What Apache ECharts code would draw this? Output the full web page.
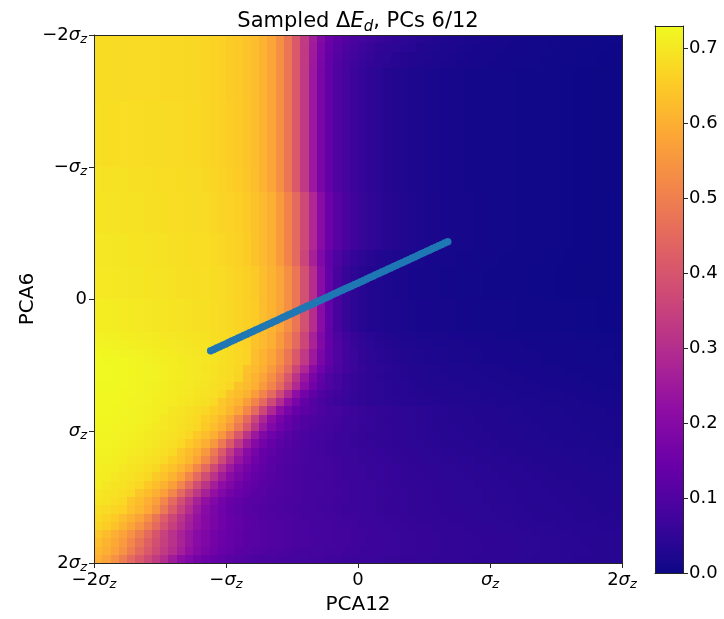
<!DOCTYPE html>
<html><head><meta charset="utf-8">
<script src="https://cdn.jsdelivr.net/npm/echarts@6/dist/echarts.min.js"></script>
<style>html,body{margin:0;padding:0;background:#fff}#c{width:724px;height:619px}</style>
</head><body><div id="c"></div>
<script>
// extent of the sampled field (units of sigma_z), both PCA12 (x) and PCA6 (y)
const fieldMin = -2, fieldMax = 2;
// sampled Delta E_d: one row per PCA6 cell (top row = -2 sigma_z), 64 columns along PCA12
const deltaE = [
[.68,.68,.679,.679,.678,.678,.677,.677,.676,.675,.675,.674,.673,.669,.665,.66,.654,.647,.637,.628,.61,.58,.535,.48,.41,.335,.26,.195,.15,.122,.103,.089,.078,.069,.061,.055,.049,.044,.04,.036,.032,.029,.026,.024,.022,.02,.018,.016,.015,.013,.012,.011,.01,.009,.008,.007,.006,.006,.005,.004,.004,.003,.003,.003],
[.68,.68,.679,.679,.678,.678,.677,.677,.676,.675,.675,.674,.673,.669,.665,.66,.654,.647,.637,.628,.61,.58,.535,.48,.41,.333,.255,.188,.143,.114,.095,.081,.07,.061,.054,.048,.043,.039,.035,.031,.028,.025,.023,.021,.019,.017,.015,.014,.013,.012,.011,.01,.009,.008,.007,.006,.005,.005,.004,.004,.003,.003,.002,.002],
[.68,.68,.679,.679,.678,.678,.677,.677,.676,.675,.675,.674,.673,.669,.665,.66,.654,.647,.637,.628,.61,.58,.535,.48,.41,.332,.252,.183,.137,.107,.088,.074,.063,.055,.048,.043,.038,.034,.031,.028,.025,.023,.021,.019,.017,.016,.014,.013,.012,.011,.01,.009,.008,.007,.006,.005,.005,.004,.004,.003,.003,.002,.002,.002],
[.68,.68,.679,.679,.678,.678,.677,.677,.676,.675,.675,.674,.673,.669,.665,.66,.654,.647,.637,.628,.61,.58,.535,.48,.41,.331,.249,.179,.133,.102,.083,.07,.06,.052,.046,.041,.036,.033,.029,.026,.024,.022,.02,.018,.016,.015,.013,.012,.011,.01,.009,.008,.008,.007,.006,.005,.005,.004,.003,.003,.003,.002,.002,.001],
[.68,.68,.679,.679,.678,.678,.677,.677,.676,.675,.675,.674,.673,.669,.665,.66,.654,.647,.637,.628,.61,.58,.535,.48,.41,.33,.245,.175,.13,.10,.08,.066,.055,.046,.04,.034,.03,.026,.023,.021,.019,.017,.015,.0135,.012,.011,.01,.009,.008,.007,.007,.006,.005,.005,.004,.004,.003,.003,.002,.002,.001,.001,.001,0],
[.68,.68,.679,.679,.678,.678,.677,.677,.676,.675,.675,.674,.673,.669,.665,.66,.654,.647,.637,.628,.61,.58,.535,.48,.41,.33,.245,.175,.13,.10,.08,.066,.055,.046,.04,.034,.03,.026,.023,.021,.019,.017,.015,.0135,.012,.011,.01,.009,.008,.007,.007,.006,.005,.005,.004,.004,.003,.003,.002,.002,.001,.001,.001,0],
[.68,.68,.679,.679,.678,.678,.677,.677,.676,.675,.675,.674,.673,.669,.665,.66,.654,.647,.637,.628,.61,.58,.535,.48,.41,.33,.245,.175,.13,.10,.08,.066,.055,.046,.04,.034,.03,.026,.023,.021,.019,.017,.015,.0135,.012,.011,.01,.009,.008,.007,.007,.006,.005,.005,.004,.004,.003,.003,.002,.002,.001,.001,.001,0],
[.68,.68,.679,.679,.678,.678,.677,.677,.676,.675,.675,.674,.673,.669,.665,.66,.654,.647,.637,.628,.61,.58,.535,.48,.41,.33,.245,.175,.13,.10,.08,.066,.055,.046,.04,.034,.03,.026,.023,.021,.019,.017,.015,.0135,.012,.011,.01,.009,.008,.007,.007,.006,.005,.005,.004,.004,.003,.003,.002,.002,.001,.001,.001,0],
[.686,.685,.685,.684,.683,.682,.681,.68,.679,.678,.677,.676,.675,.671,.667,.662,.656,.649,.639,.628,.61,.58,.535,.48,.41,.33,.245,.175,.13,.10,.08,.066,.055,.046,.04,.034,.03,.026,.023,.021,.019,.017,.015,.0135,.012,.011,.01,.009,.008,.007,.007,.006,.005,.005,.004,.004,.003,.003,.002,.002,.001,.001,.001,0],
[.686,.685,.685,.684,.683,.682,.681,.68,.679,.678,.677,.676,.675,.671,.667,.662,.656,.649,.639,.628,.61,.58,.535,.48,.41,.33,.245,.175,.13,.10,.08,.066,.055,.046,.04,.034,.03,.026,.023,.021,.019,.017,.015,.0135,.012,.011,.01,.009,.008,.007,.007,.006,.005,.005,.004,.004,.003,.003,.002,.002,.001,.001,.001,0],
[.686,.685,.685,.684,.683,.682,.681,.68,.679,.678,.677,.676,.675,.671,.667,.662,.656,.649,.639,.628,.61,.58,.535,.48,.41,.33,.245,.175,.13,.10,.08,.066,.055,.046,.04,.034,.03,.026,.023,.021,.019,.017,.015,.0135,.012,.011,.01,.009,.008,.007,.007,.006,.005,.005,.004,.004,.003,.003,.002,.002,.001,.001,.001,0],
[.686,.685,.685,.684,.683,.682,.681,.68,.679,.678,.677,.676,.675,.671,.667,.662,.656,.649,.639,.628,.61,.58,.535,.48,.41,.33,.245,.175,.13,.10,.08,.066,.055,.046,.04,.034,.03,.026,.023,.021,.019,.017,.015,.0135,.012,.011,.01,.009,.008,.007,.007,.006,.005,.005,.004,.004,.003,.003,.002,.002,.001,.001,.001,0],
[.686,.685,.685,.684,.683,.682,.681,.68,.679,.678,.677,.676,.675,.671,.667,.662,.656,.649,.639,.628,.61,.58,.535,.48,.41,.33,.245,.175,.13,.10,.08,.066,.055,.046,.04,.034,.03,.026,.023,.021,.019,.017,.015,.0135,.012,.011,.01,.009,.008,.007,.007,.006,.005,.005,.004,.004,.003,.003,.002,.002,.001,.001,.001,0],
[.686,.685,.685,.684,.683,.682,.681,.68,.679,.678,.677,.676,.675,.671,.667,.662,.656,.649,.639,.628,.61,.58,.535,.48,.41,.33,.245,.175,.13,.10,.08,.066,.055,.046,.04,.034,.03,.026,.023,.021,.019,.017,.015,.0135,.012,.011,.01,.009,.008,.007,.007,.006,.005,.005,.004,.004,.003,.003,.002,.002,.001,.001,.001,0],
[.686,.685,.685,.684,.683,.682,.681,.68,.679,.678,.677,.676,.675,.671,.667,.662,.656,.649,.639,.628,.61,.58,.535,.48,.41,.33,.245,.175,.13,.10,.08,.066,.055,.046,.04,.034,.03,.026,.023,.021,.019,.017,.015,.0135,.012,.011,.01,.009,.008,.007,.007,.006,.005,.005,.004,.004,.003,.003,.002,.002,.001,.001,.001,0],
[.686,.685,.685,.684,.683,.682,.681,.68,.679,.678,.677,.676,.675,.671,.667,.662,.656,.649,.639,.628,.61,.58,.535,.48,.41,.33,.245,.175,.13,.10,.08,.066,.055,.046,.04,.034,.03,.026,.023,.021,.019,.017,.015,.0135,.012,.011,.01,.009,.008,.007,.007,.006,.005,.005,.004,.004,.003,.003,.002,.002,.001,.001,.001,0],
[.692,.691,.69,.689,.688,.687,.686,.685,.683,.682,.681,.679,.678,.674,.67,.665,.659,.652,.642,.628,.61,.58,.535,.48,.41,.33,.245,.175,.13,.10,.08,.066,.055,.046,.04,.034,.03,.026,.023,.021,.019,.017,.015,.0135,.012,.011,.01,.009,.008,.007,.007,.006,.005,.005,.004,.004,.003,.003,.002,.002,.001,.001,.001,0],
[.692,.691,.69,.689,.688,.687,.686,.685,.683,.682,.681,.679,.678,.674,.67,.665,.659,.652,.642,.628,.61,.58,.535,.48,.41,.33,.245,.175,.13,.10,.08,.066,.055,.046,.04,.034,.03,.026,.023,.021,.019,.017,.015,.0135,.012,.011,.01,.009,.008,.007,.007,.006,.005,.005,.004,.004,.003,.003,.002,.002,.001,.001,.001,0],
[.692,.691,.69,.689,.688,.687,.686,.685,.683,.682,.681,.679,.678,.674,.67,.665,.659,.652,.642,.628,.61,.58,.535,.48,.41,.33,.245,.175,.13,.10,.08,.066,.055,.046,.04,.034,.03,.026,.023,.021,.019,.017,.015,.0135,.012,.011,.01,.009,.008,.007,.007,.006,.005,.005,.004,.004,.003,.003,.002,.002,.001,.001,.001,0],
[.694,.693,.692,.691,.69,.689,.687,.686,.685,.683,.682,.681,.679,.678,.673,.668,.663,.658,.648,.635,.62,.60,.56,.51,.45,.37,.285,.205,.15,.115,.09,.072,.06,.05,.043,.037,.032,.028,.025,.022,.02,.018,.016,.014,.013,.012,.011,.01,.009,.008,.007,.006,.005,.005,.004,.004,.003,.003,.002,.002,.001,.001,0,0],
[.694,.693,.692,.691,.69,.689,.687,.686,.685,.683,.682,.681,.679,.678,.673,.668,.663,.658,.648,.635,.62,.60,.56,.51,.45,.37,.285,.205,.15,.115,.09,.072,.06,.05,.043,.037,.032,.028,.025,.022,.02,.018,.016,.014,.013,.012,.011,.01,.009,.008,.007,.006,.005,.005,.004,.004,.003,.003,.002,.002,.001,.001,0,0],
[.694,.693,.692,.691,.69,.689,.687,.686,.685,.683,.682,.681,.679,.678,.673,.668,.663,.658,.648,.635,.62,.60,.56,.51,.45,.37,.285,.205,.15,.115,.09,.072,.06,.05,.043,.037,.032,.028,.025,.022,.02,.018,.016,.014,.013,.012,.011,.01,.009,.008,.007,.006,.005,.005,.004,.004,.003,.003,.002,.002,.001,.001,0,0],
[.694,.693,.692,.691,.69,.689,.687,.686,.685,.683,.682,.681,.679,.678,.673,.668,.663,.658,.648,.635,.62,.60,.56,.51,.45,.37,.285,.205,.15,.115,.09,.072,.06,.05,.043,.037,.032,.028,.025,.022,.02,.018,.016,.014,.013,.012,.011,.01,.009,.008,.007,.006,.005,.005,.004,.004,.003,.003,.002,.002,.001,.001,0,0],
[.694,.693,.692,.691,.69,.689,.687,.686,.685,.683,.682,.681,.679,.678,.673,.668,.663,.658,.648,.635,.62,.60,.56,.51,.45,.37,.285,.205,.15,.115,.09,.072,.06,.05,.043,.037,.032,.028,.025,.022,.02,.018,.016,.014,.013,.012,.011,.01,.009,.008,.007,.006,.005,.005,.004,.004,.003,.003,.002,.002,.001,.001,0,0],
[.70,.699,.698,.697,.695,.694,.692,.691,.689,.688,.686,.685,.683,.682,.677,.672,.667,.662,.652,.635,.62,.60,.56,.51,.45,.37,.285,.205,.15,.115,.09,.072,.06,.05,.043,.037,.032,.028,.025,.022,.02,.018,.016,.014,.013,.012,.011,.01,.009,.008,.007,.006,.005,.005,.004,.004,.003,.003,.002,.002,.001,.001,0,0],
[.70,.699,.698,.697,.695,.694,.692,.691,.689,.688,.686,.685,.683,.682,.677,.672,.667,.662,.652,.635,.62,.60,.56,.51,.45,.37,.285,.205,.15,.115,.09,.072,.06,.05,.043,.037,.032,.028,.025,.022,.02,.018,.016,.014,.013,.012,.011,.01,.009,.008,.007,.006,.005,.005,.004,.004,.003,.003,.002,.002,.001,.001,0,0],
[.70,.699,.698,.697,.695,.694,.692,.691,.689,.688,.686,.685,.683,.682,.677,.672,.667,.662,.652,.635,.62,.60,.56,.51,.45,.36,.27,.19,.13,.095,.07,.055,.045,.037,.031,.027,.024,.021,.019,.017,.015,.014,.013,.012,.011,.01,.009,.008,.007,.006,.006,.005,.005,.004,.004,.003,.003,.002,.002,.002,.001,.001,0,0],
[.70,.699,.698,.697,.695,.694,.692,.691,.689,.688,.686,.685,.683,.682,.677,.672,.667,.662,.652,.635,.62,.60,.56,.51,.45,.36,.27,.19,.13,.095,.07,.055,.045,.037,.031,.027,.024,.021,.019,.017,.015,.014,.013,.012,.011,.01,.009,.008,.007,.006,.006,.005,.005,.004,.004,.003,.003,.002,.002,.002,.001,.001,0,0],
[.703,.702,.701,.70,.698,.697,.695,.693,.692,.69,.688,.687,.685,.684,.681,.677,.672,.666,.659,.649,.628,.61,.58,.535,.48,.39,.30,.205,.13,.085,.06,.045,.036,.03,.026,.022,.02,.018,.016,.014,.013,.012,.011,.01,.009,.008,.007,.006,.006,.005,.005,.004,.004,.003,.003,.003,.002,.002,.002,.001,.001,.001,0,0],
[.703,.702,.701,.70,.698,.697,.695,.693,.692,.69,.688,.687,.685,.684,.681,.677,.672,.666,.659,.649,.628,.61,.58,.535,.48,.39,.30,.205,.13,.085,.06,.045,.036,.03,.026,.022,.02,.018,.016,.014,.013,.012,.011,.01,.009,.008,.007,.006,.006,.005,.005,.004,.004,.003,.003,.003,.002,.002,.002,.001,.001,.001,0,0],
[.703,.702,.701,.70,.698,.697,.695,.693,.692,.69,.688,.687,.685,.684,.681,.677,.672,.666,.659,.649,.628,.61,.58,.535,.48,.39,.30,.205,.13,.085,.06,.045,.036,.03,.026,.022,.02,.018,.016,.014,.013,.012,.011,.01,.009,.008,.007,.006,.006,.005,.005,.004,.004,.003,.003,.003,.002,.002,.002,.001,.001,.001,0,0],
[.703,.702,.701,.70,.698,.697,.695,.693,.692,.69,.688,.687,.685,.684,.681,.677,.672,.666,.659,.649,.628,.61,.58,.535,.48,.39,.30,.205,.13,.085,.06,.045,.036,.03,.026,.022,.02,.018,.016,.014,.013,.012,.011,.01,.009,.008,.007,.006,.006,.005,.005,.004,.004,.003,.003,.003,.002,.002,.002,.001,.001,.001,0,0],
[.71,.709,.708,.706,.704,.702,.70,.698,.696,.694,.692,.69,.688,.686,.683,.679,.674,.668,.661,.651,.628,.61,.58,.535,.48,.39,.30,.205,.13,.085,.06,.045,.036,.03,.026,.023,.021,.019,.017,.016,.015,.014,.013,.012,.011,.01,.009,.009,.008,.007,.007,.006,.006,.005,.005,.004,.004,.004,.003,.003,.003,.002,.002,.002],
[.71,.709,.708,.706,.704,.702,.70,.698,.696,.694,.692,.69,.688,.686,.683,.679,.674,.668,.661,.651,.628,.61,.58,.535,.48,.39,.30,.205,.13,.085,.06,.045,.036,.03,.026,.023,.021,.019,.017,.016,.015,.014,.013,.012,.011,.01,.009,.009,.008,.007,.007,.006,.006,.005,.005,.004,.004,.004,.003,.003,.003,.002,.002,.002],
[.71,.709,.708,.706,.704,.702,.70,.698,.696,.694,.692,.69,.688,.686,.683,.679,.674,.668,.661,.651,.628,.61,.58,.535,.48,.39,.30,.205,.13,.085,.06,.045,.036,.03,.026,.023,.021,.019,.017,.016,.015,.014,.013,.012,.011,.01,.009,.009,.008,.007,.007,.006,.006,.005,.005,.004,.004,.004,.003,.003,.003,.002,.002,.002],
[.71,.709,.708,.706,.704,.702,.70,.698,.696,.694,.692,.69,.688,.686,.683,.679,.674,.668,.661,.651,.628,.61,.58,.535,.48,.39,.30,.205,.13,.085,.06,.045,.036,.03,.026,.023,.021,.019,.017,.016,.015,.014,.013,.012,.011,.01,.009,.009,.008,.007,.007,.006,.006,.005,.005,.004,.004,.004,.003,.003,.003,.002,.002,.002],
[.716,.715,.714,.712,.71,.708,.706,.704,.701,.699,.697,.694,.692,.69,.685,.68,.675,.67,.66,.635,.62,.60,.56,.51,.45,.36,.27,.19,.13,.095,.072,.057,.047,.04,.034,.03,.027,.024,.022,.02,.019,.018,.017,.016,.015,.014,.013,.012,.012,.011,.01,.01,.009,.009,.008,.008,.007,.007,.006,.006,.005,.005,.004,.004],
[.72,.719,.718,.716,.714,.712,.709,.707,.704,.702,.699,.697,.694,.692,.687,.682,.677,.672,.662,.635,.62,.60,.56,.51,.45,.365,.275,.195,.135,.1,.076,.06,.05,.043,.037,.033,.03,.027,.025,.023,.021,.02,.019,.018,.017,.016,.015,.014,.014,.013,.012,.012,.011,.01,.01,.009,.009,.008,.008,.007,.007,.006,.006,.005],
[.726,.725,.724,.722,.72,.718,.715,.712,.709,.706,.703,.70,.698,.695,.691,.686,.68,.673,.663,.628,.61,.58,.535,.48,.41,.33,.25,.18,.13,.098,.076,.062,.052,.045,.04,.036,.033,.03,.028,.026,.024,.022,.021,.02,.019,.018,.017,.016,.016,.015,.014,.013,.013,.012,.011,.011,.01,.01,.009,.008,.008,.007,.007,.006],
[.73,.729,.728,.726,.724,.721,.718,.715,.712,.709,.705,.702,.699,.696,.692,.687,.681,.674,.664,.628,.61,.58,.535,.48,.41,.33,.25,.18,.13,.098,.076,.062,.052,.045,.04,.036,.033,.03,.028,.026,.024,.022,.021,.02,.019,.018,.017,.016,.016,.015,.014,.013,.013,.012,.011,.011,.01,.01,.009,.008,.008,.007,.007,.006],
[.73,.73,.729,.727,.725,.722,.719,.716,.713,.71,.706,.703,.70,.695,.69,.685,.68,.67,.635,.62,.60,.56,.51,.45,.365,.285,.21,.155,.118,.093,.076,.064,.055,.048,.043,.039,.036,.033,.031,.029,.027,.025,.024,.023,.022,.021,.02,.019,.018,.017,.016,.016,.015,.014,.013,.013,.012,.011,.011,.01,.01,.009,.009,.008],
[.73,.73,.729,.727,.725,.722,.719,.716,.713,.709,.706,.703,.70,.696,.691,.685,.678,.668,.628,.61,.58,.535,.48,.405,.32,.24,.175,.13,.1,.08,.067,.058,.051,.046,.042,.038,.035,.033,.031,.029,.027,.026,.025,.024,.023,.022,.021,.02,.019,.018,.018,.017,.016,.015,.015,.014,.013,.013,.012,.011,.011,.01,.01,.009],
[.729,.729,.728,.726,.724,.721,.718,.715,.712,.708,.705,.702,.697,.692,.687,.682,.672,.635,.62,.60,.56,.51,.45,.37,.29,.215,.16,.123,.098,.08,.068,.059,.052,.047,.043,.04,.037,.035,.033,.031,.029,.028,.027,.026,.025,.024,.023,.022,.021,.02,.019,.018,.018,.017,.016,.015,.015,.014,.013,.013,.012,.011,.011,.01],
[.728,.728,.727,.725,.723,.72,.717,.714,.71,.707,.704,.699,.694,.689,.684,.674,.64,.625,.605,.565,.51,.45,.37,.29,.218,.165,.128,.102,.085,.072,.063,.056,.051,.047,.043,.04,.038,.036,.034,.032,.031,.03,.029,.028,.027,.026,.025,.024,.023,.022,.021,.02,.02,.019,.018,.017,.017,.016,.015,.015,.014,.013,.013,.012],
[.727,.727,.726,.724,.722,.719,.716,.712,.709,.706,.701,.696,.691,.686,.676,.645,.628,.607,.567,.51,.45,.37,.295,.225,.172,.135,.108,.09,.077,.068,.061,.055,.05,.046,.043,.041,.039,.037,.035,.034,.033,.032,.031,.03,.029,.028,.027,.026,.025,.024,.023,.022,.021,.021,.02,.019,.018,.018,.017,.016,.016,.015,.014,.014],
[.726,.726,.725,.723,.721,.718,.715,.711,.708,.697,.692,.686,.68,.672,.655,.64,.615,.58,.52,.45,.365,.285,.22,.175,.143,.122,.106,.095,.086,.078,.072,.066,.061,.057,.053,.05,.047,.045,.043,.041,.039,.037,.035,.034,.032,.031,.03,.029,.028,.027,.026,.025,.024,.023,.022,.021,.021,.02,.019,.018,.018,.017,.016,.016],
[.725,.725,.724,.722,.72,.717,.713,.71,.70,.695,.689,.683,.675,.655,.64,.615,.58,.52,.45,.36,.28,.215,.17,.14,.12,.105,.095,.087,.08,.074,.068,.063,.059,.055,.052,.049,.047,.045,.043,.041,.039,.037,.036,.034,.033,.032,.031,.03,.029,.028,.027,.026,.025,.024,.023,.022,.022,.021,.02,.019,.019,.018,.017,.017],
[.723,.723,.722,.72,.717,.714,.711,.703,.699,.694,.688,.681,.672,.648,.628,.60,.555,.487,.405,.32,.245,.19,.155,.13,.112,.10,.091,.083,.077,.071,.066,.062,.058,.055,.052,.05,.048,.046,.044,.042,.04,.038,.037,.035,.034,.033,.032,.031,.03,.029,.028,.027,.026,.025,.024,.023,.022,.022,.021,.02,.019,.019,.018,.017],
[.722,.721,.72,.718,.715,.712,.704,.70,.695,.689,.682,.673,.648,.628,.60,.555,.487,.405,.32,.245,.19,.155,.13,.112,.10,.091,.083,.078,.073,.068,.064,.06,.057,.054,.052,.05,.048,.046,.044,.042,.04,.039,.037,.036,.035,.034,.033,.032,.031,.03,.029,.028,.027,.026,.025,.024,.024,.023,.022,.021,.021,.02,.019,.019],
[.72,.719,.717,.715,.712,.706,.702,.697,.691,.684,.675,.648,.628,.60,.555,.487,.41,.328,.255,.2,.163,.137,.118,.106,.097,.089,.083,.077,.072,.068,.064,.061,.058,.055,.053,.051,.049,.047,.045,.043,.041,.04,.038,.037,.036,.035,.034,.033,.032,.031,.03,.029,.028,.027,.026,.026,.025,.024,.023,.023,.022,.021,.021,.02],
[.717,.716,.714,.711,.706,.702,.697,.691,.684,.675,.645,.625,.60,.553,.486,.412,.333,.262,.207,.17,.143,.124,.111,.101,.093,.087,.081,.076,.072,.068,.065,.062,.059,.057,.055,.053,.051,.049,.047,.045,.043,.042,.04,.039,.038,.037,.036,.035,.034,.033,.032,.031,.03,.029,.028,.028,.027,.026,.025,.025,.024,.023,.023,.022],
[.715,.714,.712,.709,.70,.696,.69,.684,.676,.655,.638,.613,.578,.518,.45,.37,.295,.235,.19,.158,.135,.12,.108,.099,.092,.087,.082,.078,.074,.07,.067,.064,.061,.059,.057,.055,.053,.051,.049,.047,.045,.044,.042,.041,.04,.039,.038,.037,.036,.035,.034,.033,.032,.031,.03,.029,.029,.028,.027,.026,.026,.025,.024,.024],
[.713,.712,.71,.70,.695,.689,.682,.674,.652,.636,.611,.576,.517,.45,.375,.305,.245,.2,.168,.145,.128,.115,.105,.097,.091,.086,.082,.078,.074,.071,.068,.065,.063,.061,.059,.057,.055,.053,.051,.049,.047,.046,.044,.043,.042,.041,.04,.039,.038,.037,.036,.035,.034,.033,.032,.031,.03,.03,.029,.028,.027,.027,.026,.025],
[.711,.71,.70,.695,.689,.682,.674,.65,.633,.608,.574,.516,.45,.38,.315,.258,.212,.178,.154,.136,.122,.111,.102,.095,.09,.085,.081,.077,.074,.071,.068,.066,.063,.061,.059,.057,.055,.053,.051,.05,.048,.047,.045,.044,.043,.042,.041,.04,.039,.038,.037,.036,.035,.034,.033,.032,.031,.031,.03,.029,.028,.028,.027,.026],
[.71,.70,.695,.689,.682,.673,.647,.63,.605,.572,.515,.45,.383,.32,.265,.22,.186,.16,.142,.127,.116,.107,.1,.094,.089,.085,.081,.078,.075,.072,.069,.067,.064,.062,.06,.058,.056,.054,.053,.051,.05,.048,.047,.046,.044,.043,.042,.041,.04,.039,.038,.037,.036,.035,.034,.033,.033,.032,.031,.03,.03,.029,.028,.028],
[.70,.695,.69,.683,.675,.64,.625,.60,.57,.515,.45,.385,.325,.27,.225,.19,.165,.145,.13,.12,.112,.105,.099,.094,.09,.086,.082,.079,.076,.073,.07,.068,.065,.063,.061,.059,.057,.055,.054,.052,.051,.049,.048,.047,.045,.044,.043,.042,.041,.04,.039,.038,.037,.036,.035,.034,.034,.033,.032,.031,.031,.03,.029,.029],
[.695,.69,.683,.675,.64,.625,.60,.57,.515,.45,.385,.325,.27,.225,.19,.165,.145,.13,.12,.112,.106,.1,.095,.091,.087,.083,.08,.077,.074,.071,.069,.066,.064,.062,.06,.058,.056,.055,.053,.052,.05,.049,.048,.046,.045,.044,.043,.042,.041,.04,.039,.038,.037,.036,.035,.035,.034,.033,.032,.032,.031,.03,.03,.029],
[.685,.678,.67,.66,.633,.613,.585,.545,.483,.417,.355,.297,.247,.207,.177,.155,.137,.125,.116,.108,.102,.097,.093,.089,.085,.082,.079,.076,.073,.071,.068,.066,.064,.062,.06,.058,.057,.055,.054,.052,.051,.05,.048,.047,.046,.045,.044,.043,.042,.041,.04,.039,.038,.037,.036,.036,.035,.034,.033,.033,.032,.031,.031,.03],
[.675,.665,.652,.628,.605,.575,.535,.48,.42,.365,.315,.27,.232,.2,.176,.157,.142,.13,.12,.112,.105,.1,.096,.092,.088,.085,.082,.079,.076,.073,.071,.069,.066,.064,.062,.061,.059,.057,.056,.054,.053,.051,.05,.049,.048,.046,.045,.044,.043,.042,.041,.04,.039,.038,.038,.037,.036,.035,.034,.034,.033,.032,.032,.031],
[.668,.655,.635,.61,.582,.545,.50,.45,.395,.345,.30,.26,.225,.197,.175,.157,.143,.132,.122,.115,.108,.103,.098,.094,.09,.087,.084,.081,.078,.075,.073,.071,.068,.066,.064,.063,.061,.059,.058,.056,.055,.053,.052,.051,.05,.048,.047,.046,.045,.044,.043,.042,.041,.04,.039,.039,.038,.037,.036,.035,.035,.034,.033,.033],
[.645,.625,.60,.575,.54,.497,.45,.40,.352,.31,.272,.238,.208,.185,.165,.15,.138,.128,.12,.113,.107,.102,.098,.094,.09,.087,.084,.081,.078,.076,.074,.071,.069,.067,.065,.064,.062,.06,.059,.057,.056,.055,.053,.052,.051,.05,.049,.048,.047,.046,.045,.044,.043,.042,.041,.04,.04,.039,.038,.037,.037,.036,.035,.035],
[.63,.61,.588,.558,.518,.472,.428,.385,.345,.31,.275,.238,.208,.185,.165,.15,.138,.128,.12,.113,.107,.102,.098,.094,.091,.088,.085,.082,.079,.077,.075,.072,.07,.068,.066,.065,.063,.061,.06,.058,.057,.056,.054,.053,.052,.051,.05,.049,.048,.047,.046,.045,.044,.043,.042,.041,.041,.04,.039,.038,.038,.037,.036,.036],
[.615,.60,.575,.54,.495,.45,.41,.37,.335,.30,.262,.225,.198,.175,.157,.142,.13,.12,.112,.106,.1,.096,.092,.089,.086,.083,.08,.078,.076,.074,.072,.07,.068,.066,.065,.063,.062,.06,.059,.058,.056,.055,.054,.053,.052,.051,.05,.049,.048,.047,.046,.045,.044,.043,.042,.042,.041,.04,.039,.039,.038,.037,.037,.036],
[.60,.575,.54,.495,.45,.41,.37,.335,.30,.255,.215,.19,.168,.15,.137,.126,.116,.107,.10,.095,.091,.088,.085,.082,.08,.078,.076,.074,.072,.07,.068,.067,.065,.064,.062,.061,.06,.058,.057,.056,.055,.054,.053,.052,.051,.05,.049,.048,.047,.046,.045,.044,.043,.042,.041,.041,.04,.039,.038,.038,.037,.036,.036,.035]
];
// sampled points (PCA12, PCA6)
const sampleX = [-1.116,-1.093,-1.071,-1.048,-1.025,-1.002,-0.980,-0.957,-0.934,-0.911,-0.889,-0.866,-0.843,-0.820,-0.798,-0.775,-0.752,-0.729,-0.707,-0.684,-0.661,-0.639,-0.616,-0.593,-0.570,-0.548,-0.525,-0.502,-0.479,-0.457,-0.434,-0.411,-0.389,-0.366,-0.343,-0.320,-0.298,-0.275,-0.252,-0.229,-0.207,-0.184,-0.161,-0.139,-0.116,-0.093,-0.070,-0.048,-0.025,-0.002,0.021,0.043,0.066,0.089,0.112,0.134,0.157,0.180,0.203,0.225,0.248,0.271,0.293,0.316,0.339,0.362,0.384,0.407,0.430,0.453,0.475,0.498,0.521,0.544,0.566,0.589,0.612,0.634,0.657,0.680];
const sampleY = [0.392,0.382,0.371,0.361,0.350,0.340,0.329,0.319,0.308,0.298,0.287,0.277,0.267,0.256,0.246,0.235,0.225,0.214,0.204,0.193,0.183,0.172,0.162,0.152,0.141,0.131,0.120,0.110,0.099,0.089,0.078,0.068,0.057,0.047,0.037,0.026,0.016,0.005,-0.005,-0.016,-0.026,-0.037,-0.047,-0.058,-0.068,-0.079,-0.089,-0.099,-0.110,-0.120,-0.131,-0.141,-0.152,-0.162,-0.173,-0.183,-0.194,-0.204,-0.214,-0.225,-0.235,-0.246,-0.256,-0.267,-0.277,-0.288,-0.298,-0.309,-0.319,-0.329,-0.340,-0.350,-0.361,-0.371,-0.382,-0.392,-0.403,-0.413,-0.424,-0.434];
const axisTicks = [-2,-1,0,1,2];
const axisTickLabels = ['−2σz','−σz','0','σz','2σz'];
const cbarTicks = [0,0.1,0.2,0.3,0.4,0.5,0.6,0.7];
const cbarTickLabels = ['0.0','0.1','0.2','0.3','0.4','0.5','0.6','0.7'];
const cbarMin = 0, cbarMax = 0.73;
const plasma = ['#0d0887','#41049d','#6a00a8','#8f0da4','#b12a90','#cc4778','#e16462','#f2844b','#fca636','#fcce25','#f0f921'];

const FF = 'DejaVu Sans';
function richLabel(s){
  const k = s.indexOf('σ');
  if (k < 0) return '{n|' + s + '}';
  let out = '';
  if (k > 0) out += '{n|' + s.slice(0, k) + '}';
  out += '{i|σ}{s|' + s.slice(k + 1) + '}';
  return out;
}
const tickRich = {
  n: {fontSize: 18, fontFamily: FF, color: '#000', lineHeight: 24},
  i: {fontSize: 18, fontFamily: FF, fontStyle: 'italic', color: '#000', lineHeight: 24},
  s: {fontSize: 13, fontFamily: FF, fontStyle: 'italic', color: '#000', lineHeight: 15, padding: [9, 0, 0, 0]}
};
function tickFmt(v){
  const k = axisTicks.indexOf(Math.round(v));
  return k >= 0 && Math.abs(v - axisTicks[k]) < 1e-9 ? richLabel(axisTickLabels[k]) : '';
}
const spine = {show: true, onZero: false, lineStyle: {color: '#262626', width: 1}};

const nRows = deltaE.length;
const cells = [];
for (let j = 0; j < nRows; j++) {
  const nCols = deltaE[j].length;
  for (let i = 0; i < nCols; i++) {
    const w = (fieldMax - fieldMin) / nCols, h = (fieldMax - fieldMin) / nRows;
    cells.push([fieldMin + (i + 0.5) * w, fieldMin + (j + 0.5) * h, deltaE[j][i], w / 2, h / 2]);
  }
}

const chart = echarts.init(document.getElementById('c'), null, {renderer: 'canvas'});
chart.setOption({
  animation: false,
  backgroundColor: '#fff',
  grid: [
    {left: 94, top: 35, width: 528, height: 528},
    {left: 655, top: 26, width: 28, height: 547}
  ],
  xAxis: [
    {gridIndex: 0, type: 'value', min: -2, max: 2, interval: 1, position: 'bottom', z: 10,
     axisLine: spine, axisTick: {show: true, length: 5, lineStyle: {color: '#262626'}},
     axisLabel: {margin: 5, formatter: tickFmt, rich: tickRich}, splitLine: {show: false}},
    {gridIndex: 0, type: 'value', min: -2, max: 2, position: 'top', z: 10,
     axisLine: spine, axisTick: {show: false}, axisLabel: {show: false}, splitLine: {show: false}},
    {gridIndex: 1, type: 'value', min: 0, max: 1, position: 'bottom', z: 10,
     axisLine: spine, axisTick: {show: false}, axisLabel: {show: false}, splitLine: {show: false}},
    {gridIndex: 1, type: 'value', min: 0, max: 1, position: 'top', z: 10,
     axisLine: spine, axisTick: {show: false}, axisLabel: {show: false}, splitLine: {show: false}}
  ],
  yAxis: [
    {gridIndex: 0, type: 'value', min: -2, max: 2, interval: 1, inverse: true, position: 'left', z: 10,
     axisLine: spine, axisTick: {show: true, length: 5, lineStyle: {color: '#262626'}},
     axisLabel: {margin: 7, formatter: tickFmt, rich: tickRich}, splitLine: {show: false}},
    {gridIndex: 0, type: 'value', min: -2, max: 2, inverse: true, position: 'right', z: 10,
     axisLine: spine, axisTick: {show: false}, axisLabel: {show: false}, splitLine: {show: false}},
    {gridIndex: 1, type: 'value', min: cbarMin, max: cbarMax, position: 'right', z: 10,
     axisLine: spine,
     axisTick: {show: true, length: 5, customValues: cbarTicks, lineStyle: {color: '#262626'}},
     axisLabel: {margin: 6, customValues: cbarTicks, fontSize: 18, fontFamily: FF, color: '#000',
       formatter: function(v){ const k = cbarTicks.findIndex(t => Math.abs(t - v) < 1e-6); return k >= 0 ? cbarTickLabels[k] : ''; }},
     splitLine: {show: false}},
    {gridIndex: 1, type: 'value', min: cbarMin, max: cbarMax, position: 'left', z: 10,
     axisLine: spine, axisTick: {show: false}, axisLabel: {show: false}, splitLine: {show: false}}
  ],
  visualMap: [{type: 'continuous', show: false, min: cbarMin, max: cbarMax, dimension: 2, seriesIndex: 0,
               inRange: {color: plasma}}],
  series: [
    {type: 'custom', xAxisIndex: 0, yAxisIndex: 0, clip: true, data: cells, z: 1,
     dimensions: ['u', 'v', 'dE', 'hw', 'hh'], encode: {x: 0, y: 1},
     renderItem: function(params, api){
       const u = api.value(0), v = api.value(1), hw = api.value(3), hh = api.value(4);
       const a = api.coord([u - hw, v - hh]);
       const b = api.coord([u + hw, v + hh]);
       const x0 = Math.round(Math.min(a[0], b[0])), x1 = Math.round(Math.max(a[0], b[0]));
       const y0 = Math.round(Math.min(a[1], b[1])), y1 = Math.round(Math.max(a[1], b[1]));
       return {type: 'rect', shape: {x: x0, y: y0, width: x1 - x0, height: y1 - y0},
               style: {fill: api.visual('color'), stroke: null}};
     }},
    {type: 'scatter', xAxisIndex: 0, yAxisIndex: 0, z: 5, symbol: 'circle', symbolSize: 7.5,
     itemStyle: {color: '#1f77b4', opacity: 1},
     data: sampleX.map((x, k) => [x, sampleY[k]])},
    {type: 'custom', xAxisIndex: 2, yAxisIndex: 2, z: 1, data: [[0, cbarMax]],
     renderItem: function(params, api){
       const a = api.coord([0, cbarMin]);
       const b = api.coord([1, api.value(1)]);
       return {type: 'rect', shape: {x: a[0], y: b[1], width: b[0] - a[0], height: a[1] - b[1]},
               style: {fill: new echarts.graphic.LinearGradient(0, 1, 0, 0,
                 plasma.map((c, k) => ({offset: k / (plasma.length - 1), color: c})))}};
     }}
  ],
  graphic: [
    {type: 'text', x: 358, y: 22, z: 20, style: {
      text: '{n|Sampled Δ}{i|E}{s|d}{n|, PCs 6/12}', align: 'center', verticalAlign: 'middle',
      rich: {
        n: {fontSize: 21, fontFamily: FF, color: '#000', lineHeight: 28},
        i: {fontSize: 21, fontFamily: FF, fontStyle: 'italic', color: '#000', lineHeight: 28},
        s: {fontSize: 15, fontFamily: FF, fontStyle: 'italic', color: '#000', lineHeight: 18, padding: [10, 0, 0, 0]}
      }}},
    {type: 'text', x: 358, y: 605, z: 20, style: {text: 'PCA12', fontSize: 20, fontFamily: FF, fill: '#000', align: 'center', verticalAlign: 'middle'}},
    {type: 'text', x: 28, y: 299, z: 20, rotation: Math.PI / 2, style: {text: 'PCA6', fontSize: 20, fontFamily: FF, fill: '#000', align: 'center', verticalAlign: 'middle'}}
  ]
});
</script></body></html>
